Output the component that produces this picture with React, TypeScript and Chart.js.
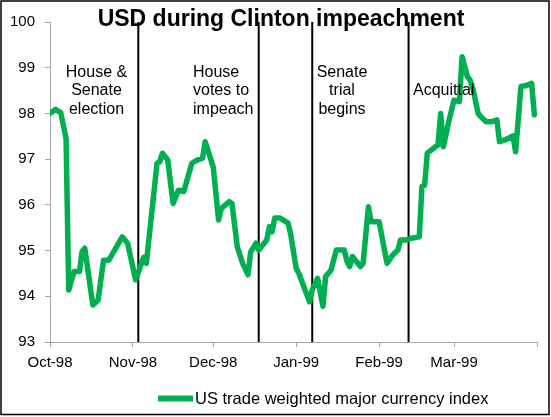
import React, { useEffect, useRef } from "react";
import { Chart, registerables } from "chart.js";

Chart.register(...registerables);

// ---------- data ----------
const TITLE = "USD during Clinton impeachment";
const SERIES_LABEL = "US trade weighted major currency index";
const PERIOD_START = "1998-10-01";
const PERIOD_END = "1999-04-01";

const monthTickDates = ["1998-10-01", "1998-11-01", "1998-12-01", "1999-01-01", "1999-02-01", "1999-03-01", "1999-04-01"];
const monthTickLabels = ["Oct-98", "Nov-98", "Dec-98", "Jan-99", "Feb-99", "Mar-99", ""];

const yMin = 93;
const yMax = 100;

const dates = [
  "1998-10-01", "1998-10-03", "1998-10-05", "1998-10-07", "1998-10-08", "1998-10-10", "1998-10-12", "1998-10-13",
  "1998-10-14", "1998-10-17", "1998-10-19", "1998-10-21", "1998-10-23", "1998-10-28", "1998-10-30", "1998-11-02",
  "1998-11-05", "1998-11-06", "1998-11-10", "1998-11-11", "1998-11-12", "1998-11-14", "1998-11-16", "1998-11-18",
  "1998-11-20", "1998-11-23", "1998-11-25", "1998-11-27", "1998-11-28", "1998-12-01", "1998-12-03", "1998-12-04",
  "1998-12-07", "1998-12-08", "1998-12-10", "1998-12-12", "1998-12-14", "1998-12-15", "1998-12-17", "1998-12-18",
  "1998-12-21", "1998-12-22", "1998-12-23", "1998-12-24", "1998-12-26", "1998-12-29", "1998-12-30", "1999-01-01",
  "1999-01-02", "1999-01-06", "1999-01-07", "1999-01-09", "1999-01-11", "1999-01-12", "1999-01-14", "1999-01-16",
  "1999-01-19", "1999-01-20", "1999-01-21", "1999-01-22", "1999-01-25", "1999-01-26", "1999-01-28", "1999-01-29",
  "1999-02-01", "1999-02-03", "1999-02-04", "1999-02-06", "1999-02-08", "1999-02-09", "1999-02-11", "1999-02-13",
  "1999-02-16", "1999-02-17", "1999-02-18", "1999-02-19", "1999-02-22", "1999-02-23", "1999-02-24", "1999-02-25",
  "1999-02-27", "1999-03-01", "1999-03-03", "1999-03-04", "1999-03-06", "1999-03-07", "1999-03-08", "1999-03-10",
  "1999-03-11", "1999-03-13", "1999-03-15", "1999-03-17", "1999-03-18", "1999-03-20", "1999-03-23", "1999-03-24",
  "1999-03-26", "1999-03-28", "1999-03-30", "1999-03-31",
];

const indexValues = [
  98.0, 98.09, 98.02, 97.45, 94.14, 94.54, 94.54, 94.98,
  95.05, 93.81, 93.92, 94.79, 94.79, 95.3, 95.16, 94.36,
  94.85, 94.72, 96.91, 96.94, 97.13, 96.98, 96.03, 96.32,
  96.29, 96.91, 96.98, 97.02, 97.38, 96.83, 95.67, 95.92,
  96.07, 96.03, 95.08, 94.72, 94.47, 94.97, 95.16, 95.01,
  95.23, 95.52, 95.41, 95.71, 95.71, 95.6, 95.34, 94.61,
  94.5, 93.88, 94.14, 94.39, 93.78, 94.43, 94.57, 95.01,
  95.01, 94.76, 94.65, 94.87, 94.65, 94.72, 95.96, 95.63,
  95.63, 95.01, 94.72, 94.9, 95.01, 95.23, 95.23, 95.27,
  95.3, 96.4, 96.43, 97.13, 97.27, 97.31, 98.0, 97.27,
  97.82, 98.29, 98.26, 99.24, 98.8, 98.73, 98.55, 98.0,
  97.93, 97.82, 97.82, 97.86, 97.38, 97.42, 97.51, 97.16,
  98.59, 98.61, 98.66, 97.97,
];

const eventDates = ["1998-11-03", "1998-12-18", "1999-01-07", "1999-02-12"];
const eventLabels = [
  ["House &", "Senate", "election"],
  ["House", "votes to", "impeach"],
  ["Senate", "trial", "begins"],
  ["Acquittal"],
];

// ---------- helpers ----------
const toUTC = (s: string) => {
  const [y, m, d] = s.split("-").map(Number);
  return Date.UTC(y, m - 1, d);
};
const dayOf = (s: string) => (toUTC(s) - toUTC(PERIOD_START)) / 86400000;

const GREEN = "#00B050";
const AXIS = "#a6a6a6";
const FONT = "'Liberation Sans', Arial, sans-serif";

// text layout for event notes (pixel layout, not data)
const noteLayout = [
  { x: 96.5, align: "center", y: 77 },
  { x: 193, align: "left", y: 77 },
  { x: 342, align: "center", y: 77 },
  { x: 413, align: "left", y: 95.3 },
];

const decorPlugin = {
  id: "decor",
  beforeDraw(chart: any) {
    const { ctx, width, height } = chart;
    ctx.save();
    ctx.fillStyle = "#ffffff";
    ctx.fillRect(0, 0, width, height);
    ctx.restore();
  },
  afterDatasetsDraw(chart: any) {
    const { ctx } = chart;
    ctx.save();
    ctx.fillStyle = "#000";
    ctx.font = `16px ${FONT}`;
    ctx.textBaseline = "alphabetic";
    eventLabels.forEach((lines, i) => {
      const l = noteLayout[i];
      ctx.textAlign = l.align;
      lines.forEach((t, j) => ctx.fillText(t, l.x, l.y + j * 18.3));
    });
    ctx.restore();
  },
  afterDraw(chart: any) {
    const { ctx } = chart;
    ctx.save();
    // title
    ctx.fillStyle = "#000";
    ctx.font = `bold 23px ${FONT}`;
    ctx.textAlign = "center";
    ctx.textBaseline = "alphabetic";
    ctx.fillText(TITLE, 281, 25.5);
    // legend
    ctx.strokeStyle = GREEN;
    ctx.lineWidth = 6;
    ctx.beginPath();
    ctx.moveTo(158, 398.5);
    ctx.lineTo(193, 398.5);
    ctx.stroke();
    ctx.font = `16.5px ${FONT}`;
    ctx.textAlign = "left";
    ctx.textBaseline = "middle";
    ctx.fillStyle = "#000";
    ctx.fillText(SERIES_LABEL, 195, 399);
    // frame
    ctx.strokeStyle = "#000";
    ctx.lineWidth = 1.5;
    ctx.strokeRect(1, 1, 548, 413.5);
    ctx.restore();
  },
};

export default function App() {
  const ref = useRef<HTMLCanvasElement>(null);

  useEffect(() => {
    document.body.style.margin = "0";
    const tickValues = monthTickDates.map(dayOf);
    const seriesPoints = dates.map((d, i) => ({ x: dayOf(d), y: indexValues[i] }));
    const eventSets = eventDates.map((d) => ({
      label: "event " + d,
      data: [
        { x: dayOf(d), y: yMin },
        { x: dayOf(d), y: yMax },
      ],
      borderColor: "#000",
      borderWidth: 2,
      pointRadius: 0,
      fill: false,
    }));

    const chart = new Chart(ref.current as HTMLCanvasElement, {
      type: "line",
      data: {
        datasets: [
          {
            label: SERIES_LABEL,
            data: seriesPoints,
            borderColor: GREEN,
            backgroundColor: GREEN,
            borderWidth: 5.5,
            pointRadius: 0,
            tension: 0,
            borderJoinStyle: "round",
            borderCapStyle: "round",
            fill: false,
          },
          ...eventSets,
        ],
      } as any,
      options: {
        animation: false,
        responsive: true,
        maintainAspectRatio: false,
        events: [],
        layout: { padding: { top: 22, right: 14, left: 0, bottom: 0 } },
        plugins: {
          legend: { display: false },
          tooltip: { enabled: false },
          title: { display: false },
        },
        scales: {
          x: {
            type: "linear",
            min: dayOf(PERIOD_START),
            max: dayOf(PERIOD_END),
            afterBuildTicks: (scale: any) => {
              scale.ticks = tickValues.map((v) => ({ value: v }));
            },
            afterFit: (scale: any) => {
              scale.height = 75;
            },
            ticks: {
              autoSkip: false,
              maxRotation: 0,
              padding: 7,
              color: "#000",
              font: { family: FONT, size: 15 },
              callback: (_v: any, i: number) => monthTickLabels[i],
            },
            grid: { display: true, drawOnChartArea: false, drawTicks: true, tickLength: 5, color: AXIS },
            border: { display: true, color: AXIS, width: 1 },
          },
          y: {
            min: yMin,
            max: yMax,
            afterFit: (scale: any) => {
              scale.width = 50;
            },
            ticks: {
              stepSize: 1,
              padding: 10,
              color: "#000",
              font: { family: FONT, size: 15 },
            },
            grid: { display: true, drawOnChartArea: false, drawTicks: true, tickLength: 5, color: AXIS },
            border: { display: true, color: AXIS, width: 1 },
          },
        },
      } as any,
      plugins: [decorPlugin],
    });
    return () => chart.destroy();
  }, []);

  return (
    <div style={{ position: "relative", width: 551, height: 417 }}>
      <canvas ref={ref} />
    </div>
  );
}
